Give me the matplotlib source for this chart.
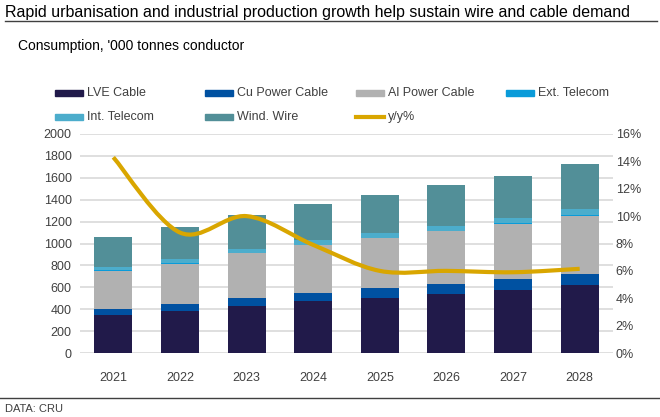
import matplotlib
matplotlib.use("Agg")
import matplotlib.pyplot as plt
from matplotlib.path import Path
from matplotlib.patches import PathPatch, Rectangle
from matplotlib.lines import Line2D
import numpy as np

plt.rcParams['font.family'] = ['Liberation Sans', 'DejaVu Sans']

years = ["2021", "2022", "2023", "2024", "2025", "2026", "2027", "2028"]
lve_cable = [345, 384, 430, 473, 506, 540, 576, 619]
cu_power = [57, 61, 73, 79, 86, 91, 101, 103]
al_power = [348, 372, 409, 433, 457, 482, 503, 531]
ext_telecom = [5, 5, 5, 5, 5, 5, 5, 5]
int_telecom = [32, 35, 34, 41, 41, 44, 47, 53]
wind_wire = [268, 290, 311, 332, 350, 369, 387, 412]
yoy = [14.3, 8.8, 10.0, 7.9, 6.0, 6.0, 5.9, 6.15]

series = [
    ("LVE Cable", lve_cable, "#211a4a"),
    ("Cu Power Cable", cu_power, "#0051a1"),
    ("Al Power Cable", al_power, "#b1b1b1"),
    ("Ext. Telecom", ext_telecom, "#0a9bd9"),
    ("Int. Telecom", int_telecom, "#4cadcc"),
    ("Wind. Wire", wind_wire, "#528f98"),
]
line_color = "#d9a600"
txt = "#404040"

fig = plt.figure(figsize=(6.6, 4.17), dpi=100)
ax = fig.add_axes([80/660, 1-353/417, 533/660, 219/417])
ax2 = ax.twinx()

x = np.arange(len(years))
bottom = np.zeros(len(years))
for name, vals, col in series:
    ax.bar(x, vals, 0.57, bottom=bottom, color=col, zorder=2)
    bottom += np.array(vals)

ax.set_xlim(-0.5, len(years) - 0.5)
ax.set_ylim(0, 2000)
ax.set_yticks(range(0, 2001, 200))
ax.set_xticks(x)
ax.set_xticklabels(years)
ax.grid(axis="y", color="#d9d9d9", lw=1.2, zorder=0)
ax.set_axisbelow(True)
for a in (ax, ax2):
    for s in a.spines.values():
        s.set_visible(False)
    a.tick_params(length=0, labelsize=9, colors=txt)
ax.tick_params(axis="x", pad=14)
ax.tick_params(axis="y", pad=6)

# smoothed y/y line (Bezier through the points, like the spreadsheet's smooth line)
ax2.set_ylim(0, 16)
ax2.set_yticks(range(0, 17, 2))
ax2.set_yticklabels([f"{v}%" for v in range(0, 17, 2)])
ax2.tick_params(axis="y", pad=2)
pts = np.column_stack([x, yoy])
verts = [pts[0]]
codes = [Path.MOVETO]
n = len(pts)
for i in range(n - 1):
    p0 = pts[max(i - 1, 0)]
    p1 = pts[i]
    p2 = pts[i + 1]
    p3 = pts[min(i + 2, n - 1)]
    verts += [p1 + (p2 - p0) / 6, p2 - (p3 - p1) / 6, p2]
    codes += [Path.CURVE4] * 3
ax2.add_patch(PathPatch(Path(verts, codes), fill=False, ec=line_color, lw=3,
                        capstyle="butt", zorder=3))

# title, subtitle, rules, source
fig.text(5/660, 1-12/417, "Rapid urbanisation and industrial production growth help sustain wire and cable demand",
         fontsize=11.5, va="center", ha="left", color="black")
fig.add_artist(Line2D([5/660, 657/660], [1-21/417, 1-21/417], color="#404040", lw=1))
fig.text(18/660, 1-46/417, "Consumption, '000 tonnes conductor", fontsize=10, va="center", color="black")
fig.add_artist(Line2D([0, 1], [1-398/417, 1-398/417], color="#404040", lw=1))
fig.text(5/660, 1-409/417, "DATA: CRU", fontsize=8, va="center", color=txt)

# legend laid out in two rows of four columns
leg_items = [(name, col, "bar") for name, vals, col in series[:4]] + \
            [(name, col, "bar") for name, vals, col in series[4:]] + [("y/y%", line_color, "line")]
col_x = [55, 205, 356, 506]
row_y = [93, 117]
for k, (name, col, kind) in enumerate(leg_items):
    cx = col_x[k % 4]
    cy = row_y[k // 4]
    if kind == "bar":
        fig.add_artist(Rectangle((cx/660, 1-(cy+2.5)/417), 28/660, 5/417, color=col,
                                 transform=fig.transFigure))
    else:
        fig.add_artist(Line2D([cx/660, (cx+28)/660], [1-cy/417, 1-cy/417], color=col, lw=3))
    fig.text((cx+32)/660, 1-cy/417, name, fontsize=9, va="center", ha="left", color=txt)

fig.savefig("out.png", dpi=100)
